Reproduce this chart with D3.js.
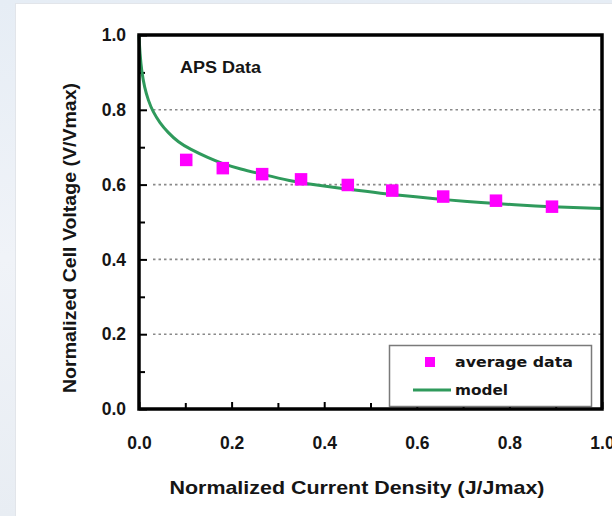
<!DOCTYPE html>
<html>
<head>
<meta charset="utf-8">
<script src="https://cdn.jsdelivr.net/npm/d3@7"></script>
<style>
  html, body { margin: 0; padding: 0; background: #fff; }
  svg { display: block; }
</style>
</head>
<body>
<svg id="chart" width="612" height="516"></svg>
<script>
// averaged measurements (J/Jmax, V/Vmax)
const dataX = [0.102, 0.181, 0.266, 0.350, 0.451, 0.547, 0.657, 0.771, 0.892];
const dataY = [0.666, 0.644, 0.628, 0.614, 0.599, 0.584, 0.568, 0.557, 0.541];

// model curve
const modelX = [0, 0.002, 0.006, 0.012, 0.020, 0.030, 0.045, 0.062, 0.085, 0.11, 0.15, 0.18,
  0.218, 0.268, 0.326, 0.376, 0.45, 0.52, 0.6, 0.665, 0.74, 0.808, 0.9, 1.0];
const modelY = [1.0, 0.95, 0.90, 0.86, 0.825, 0.795, 0.765, 0.74, 0.713, 0.695, 0.671, 0.656,
  0.642, 0.627, 0.610, 0.600, 0.588, 0.577, 0.567, 0.559, 0.552, 0.546, 0.540, 0.536];

const majorTicks = [0, 0.2, 0.4, 0.6, 0.8, 1.0];
const minorTicks = [0.1, 0.3, 0.5, 0.7, 0.9];
const gridTicks = [0.2, 0.4, 0.6, 0.8];

const svg = d3.select('#chart');

const x = d3.scaleLinear().domain([0, 1]).range([139, 602]);
const y = d3.scaleLinear().domain([0, 1]).range([409, 35]);

// slide background + white panel
const grad = svg.append('defs').append('linearGradient')
  .attr('id', 'bg').attr('x1', 0).attr('y1', 0).attr('x2', 0).attr('y2', 1);
grad.append('stop').attr('offset', '0%').attr('stop-color', '#e6edf5');
grad.append('stop').attr('offset', '50%').attr('stop-color', '#f0f3f8');
grad.append('stop').attr('offset', '100%').attr('stop-color', '#e8edf3');
svg.append('rect').attr('width', 612).attr('height', 516).style('fill', 'url(#bg)');
svg.append('rect')
  .attr('x', 15.5).attr('y', 3.5).attr('width', 620).attr('height', 520)
  .style('fill', '#fff').style('stroke', '#e2e5ea');

// dotted grid
svg.append('g').selectAll('line').data(gridTicks).join('line')
  .attr('x1', x(0) + 14).attr('x2', x(1))
  .attr('y1', d => y(d)).attr('y2', d => y(d))
  .style('stroke', '#8a8a8a').style('stroke-width', 1.6)
  .style('stroke-dasharray', '2.5,3');

// inward ticks
const tickStyle = g => {
  g.select('.domain').remove();
  g.selectAll('.tick line').style('stroke', '#000').style('stroke-width', 2);
  g.selectAll('.tick text')
    .style('font-family', '"Liberation Sans", Arial, sans-serif')
    .style('font-weight', 'bold').style('font-size', '17.5px').style('fill', '#151515');
};

svg.append('g').attr('transform', `translate(${x(0)},0)`)
  .call(d3.axisLeft(y).tickValues(majorTicks).tickSizeInner(-8).tickSizeOuter(0)
    .tickPadding(13).tickFormat(d3.format('.1f')))
  .call(tickStyle);
svg.append('g').attr('transform', `translate(${x(0)},0)`)
  .call(d3.axisLeft(y).tickValues(minorTicks).tickSizeInner(-6).tickSizeOuter(0).tickFormat(''))
  .call(tickStyle);

svg.append('g').attr('transform', `translate(0,${y(0)})`)
  .call(d3.axisBottom(x).tickValues(majorTicks).tickSizeInner(-7).tickSizeOuter(0)
    .tickPadding(28).tickFormat(d3.format('.1f')))
  .call(tickStyle);
svg.append('g').attr('transform', `translate(0,${y(0)})`)
  .call(d3.axisBottom(x).tickValues(minorTicks).tickSizeInner(-6).tickSizeOuter(0).tickFormat(''))
  .call(tickStyle);

// model curve
const model = modelX.map((v, i) => [v, modelY[i]]);
const line = d3.line().x(d => x(d[0])).y(d => y(d[1])).curve(d3.curveBasis);
svg.append('path').datum(model)
  .attr('d', line)
  .style('fill', 'none').style('stroke', '#2f9a5c').style('stroke-width', 3);

// data squares
const sq = 12.5;
svg.append('g').selectAll('rect').data(dataX.map((v, i) => [v, dataY[i]])).join('rect')
  .attr('x', d => x(d[0]) - sq / 2).attr('y', d => y(d[1]) - sq / 2)
  .attr('width', sq).attr('height', sq)
  .style('fill', '#ff00ff');

// legend
const lg = svg.append('g');
lg.append('rect')
  .attr('x', 389.5).attr('y', 345.5).attr('width', 202).attr('height', 61)
  .style('fill', '#fff').style('stroke', '#7a7a7a').style('stroke-width', 1.5);
lg.append('rect').attr('x', 425).attr('y', 357).attr('width', 10).attr('height', 10)
  .style('fill', '#ff00ff');
lg.append('line').attr('x1', 413).attr('x2', 451).attr('y1', 390).attr('y2', 390)
  .style('stroke', '#2f9a5c').style('stroke-width', 3);
lg.selectAll('text').data([['average data', 362, 118], ['model', 390, 53]]).join('text')
  .attr('x', 455).attr('y', d => d[1]).attr('dy', '0.35em')
  .attr('textLength', d => d[2]).attr('lengthAdjust', 'spacingAndGlyphs')
  .style('font-family', '"DejaVu Sans", Verdana, sans-serif')
  .style('font-weight', 'bold').style('font-size', '14.5px').style('fill', '#151515')
  .text(d => d[0]);

// frame
svg.append('rect')
  .attr('x', x(0)).attr('y', y(1)).attr('width', x(1) - x(0)).attr('height', y(0) - y(1))
  .style('fill', 'none').style('stroke', '#000').style('stroke-width', 3.5);

// annotation + axis titles
const bold = s => s.style('font-family', '"Liberation Sans", Arial, sans-serif')
  .style('font-weight', 'bold').style('fill', '#151515');

svg.append('text').attr('x', 180).attr('y', 73)
  .attr('textLength', 81).attr('lengthAdjust', 'spacingAndGlyphs')
  .style('font-size', '16px').call(bold).text('APS Data');

svg.append('text').attr('x', 357).attr('y', 494).attr('text-anchor', 'middle')
  .attr('textLength', 375).attr('lengthAdjust', 'spacingAndGlyphs')
  .style('font-size', '19px').call(bold).text('Normalized Current Density (J/Jmax)');

svg.append('text')
  .attr('transform', 'translate(76,238) rotate(-90)').attr('text-anchor', 'middle')
  .attr('textLength', 310).attr('lengthAdjust', 'spacingAndGlyphs')
  .style('font-size', '18px').call(bold).text('Normalized Cell Voltage (V/Vmax)');
</script>
</body>
</html>
